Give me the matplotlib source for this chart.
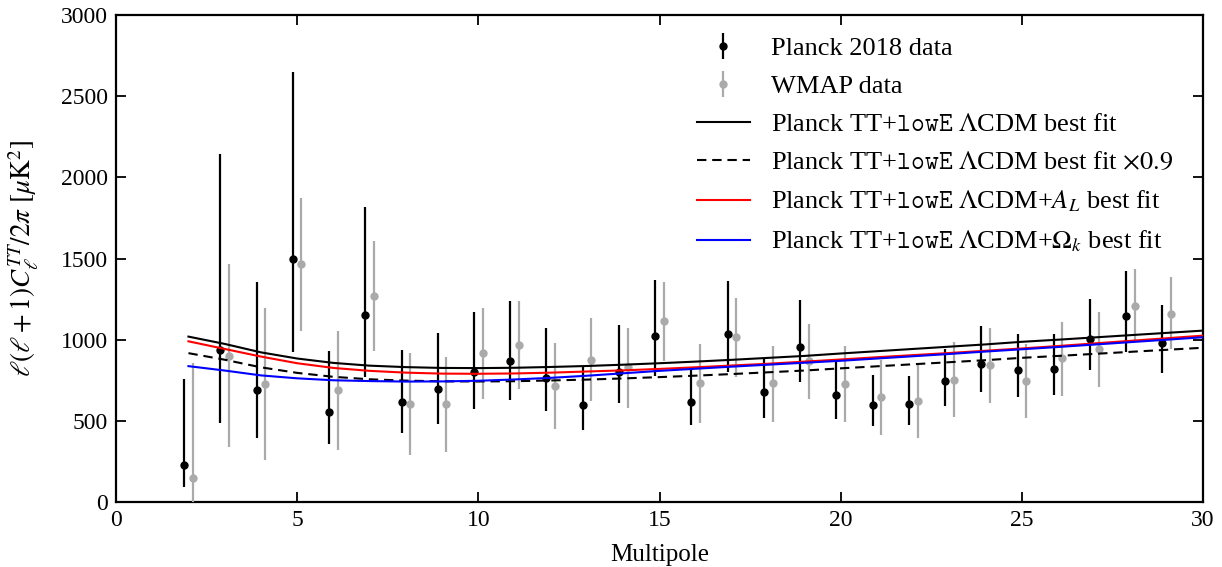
import numpy as np
import matplotlib
matplotlib.use("Agg")
import matplotlib.pyplot as plt

# ---------------- data ----------------
ell = np.arange(2, 30)

planck = [226, 937, 691, 1499, 556, 1153, 615, 697, 800, 868, 763, 595, 804, 1021,
          619, 1034, 675, 954, 660, 599, 603, 747, 849, 814, 820, 1003, 1148, 978]
planck_lo = [92, 486, 396, 927, 355, 769, 425, 482, 570, 630, 558, 441, 609, 775,
             472, 800, 517, 738, 513, 466, 476, 593, 675, 644, 660, 814, 923, 796]
planck_hi = [755, 2143, 1353, 2651, 929, 1819, 937, 1042, 1169, 1241, 1070, 831, 1093, 1368,
             831, 1364, 882, 1245, 861, 785, 779, 943, 1083, 1036, 1036, 1251, 1425, 1214]

wmap = [150, 900, 730, 1468, 687, 1271, 605, 605, 915, 970, 714, 876, 831, 1114,
        734, 1015, 734, 868, 730, 646, 624, 753, 845, 747, 886, 941, 1208, 1161]
wmap_lo = [-100, 338, 256, 1056, 318, 933, 288, 308, 632, 697, 451, 621, 578, 866,
           486, 773, 496, 632, 496, 414, 394, 523, 613, 517, 656, 711, 991, 943]
wmap_hi = [855, 1466, 1198, 1872, 1052, 1606, 920, 896, 1196, 1241, 980, 1134, 1073, 1353,
           974, 1255, 964, 1099, 964, 872, 851, 984, 1073, 974, 1111, 1169, 1436, 1388]

ell_model = np.arange(2, 31)
lcdm = [1019, 974, 922, 884, 857, 840, 831, 826, 825, 827, 832, 838, 846, 855, 865,
        876, 888, 900, 915, 929, 943, 957, 971, 987, 1000, 1014, 1028, 1042, 1056]
lcdm_AL = [990, 943, 896, 855, 826, 808, 797, 791, 790, 792, 797, 804, 811, 820, 830,
           841, 852, 865, 878, 892, 905, 918, 932, 946, 961, 977, 993, 1009, 1025]
lcdm_Ok = [837, 810, 780, 762, 750, 745, 742, 743, 747, 755, 765, 778, 793, 808, 821,
           834, 846, 858, 870, 884, 898, 912, 927, 941, 955, 970, 985, 1000, 1015]
scale = 0.9

labels = ["Planck 2018 data", "WMAP data",
          r"Planck TT+$\mathtt{lowE}$ $\Lambda$CDM best fit",
          r"Planck TT+$\mathtt{lowE}$ $\Lambda$CDM best fit $\times 0.9$",
          r"Planck TT+$\mathtt{lowE}$ $\Lambda$CDM+$A_L$ best fit",
          r"Planck TT+$\mathtt{lowE}$ $\Lambda$CDM+$\Omega_k$ best fit"]

# ---------------- style ----------------
plt.rcParams['font.family'] = ['Liberation Serif', 'DejaVu Serif']
plt.rcParams['mathtext.fontset'] = 'stix'
plt.rcParams['font.size'] = 17

fig = plt.figure(figsize=(12.22, 5.67), dpi=100)
ax = fig.add_axes([0.0949, 0.1146, 0.8896, 0.8589])

planck = np.array(planck); wmap = np.array(wmap)
p_err = [planck - np.array(planck_lo), np.array(planck_hi) - planck]
w_err = [wmap - np.array(wmap_lo), np.array(wmap_hi) - wmap]

h1 = ax.errorbar(ell - 0.12, planck, yerr=p_err, fmt='o', color='black', ms=5,
                 elinewidth=1.6, capsize=0, zorder=4)
h2 = ax.errorbar(ell + 0.12, wmap, yerr=w_err, fmt='o', color='#aaaaaa', ms=5,
                 elinewidth=1.6, capsize=0, zorder=3)
l1, = ax.plot(ell_model, lcdm, color='black', lw=1.5, zorder=5)
l2, = ax.plot(ell_model, scale * np.array(lcdm), color='black', lw=1.5,
              ls=(0, (4.5, 2.8)), zorder=5)
l3, = ax.plot(ell_model, lcdm_AL, color='red', lw=1.5, zorder=5)
l4, = ax.plot(ell_model, lcdm_Ok, color='blue', lw=1.5, zorder=5)

ax.set_xlim(0, 30)
ax.set_ylim(0, 3000)
ax.set_xticks([0, 5, 10, 15, 20, 25, 30])
ax.set_yticks([0, 500, 1000, 1500, 2000, 2500, 3000])
ax.tick_params(direction='in', length=7, width=1.3, top=True, right=True,
               labelsize=17, pad=6)
for s in ax.spines.values():
    s.set_linewidth(1.6)

ax.set_xlabel("Multipole", fontsize=18, labelpad=9)
ax.set_ylabel(r"$\ell(\ell+1)C_\ell^{TT}/2\pi\ [\mu{\rm K}^2]$", fontsize=19.5)
ax.yaxis.set_label_coords(-0.069, 0.5)

ax.legend([h1, h2, l1, l2, l3, l4], labels, loc='upper left', frameon=False,
          fontsize=19, handlelength=2.0, handletextpad=0.8, labelspacing=0.55,
          borderpad=0.4, bbox_to_anchor=(0.5125, 1.004))

fig.savefig("out.png", dpi=100)
